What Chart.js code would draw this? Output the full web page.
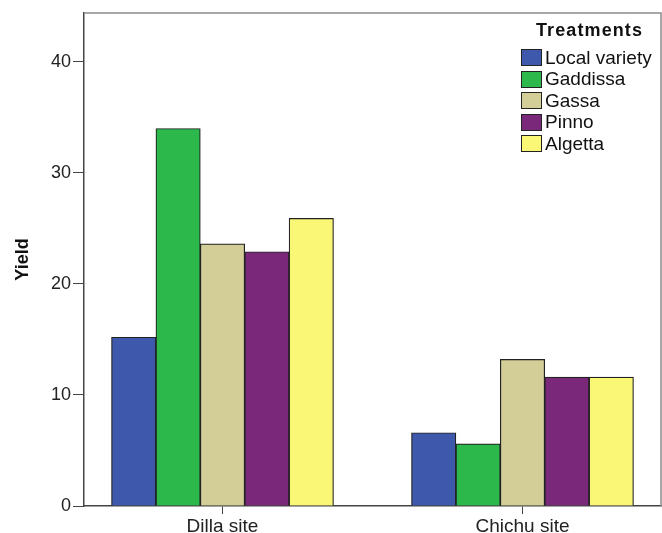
<!DOCTYPE html>
<html>
  <head>
    <meta charset="UTF-8" />
    <title>Yield by site and treatment</title>
    <style>
      body {
        margin: 0;
        background: #fff;
        font-family: "Liberation Sans", Arial, sans-serif;
      }

      #wrap {
        position: relative;
        width: 662px;
        height: 533px;
      }

      #legend {
        position: absolute;
        left: 521px;
        top: 20px;
        color: #111;
      }

      #legend .title {
        font-weight: bold;
        font-size: 18px;
        letter-spacing: 1.1px;
        margin-left: 15px;
        height: 27px;
      }

      #legend .item {
        display: flex;
        align-items: center;
        height: 21.5px;
        font-size: 19px;
      }

      #legend .box {
        width: 19px;
        height: 15px;
        border: 1px solid #222;
        margin-right: 3px;
      }
    </style>
  </head>

  <body>
    <div id="wrap">
      <canvas id="chart" width="662" height="533"></canvas>
      <div id="legend"></div>
    </div>

    <script src="https://cdn.jsdelivr.net/npm/chart.js"></script>

    <script>
      const sites = ["Dilla site", "Chichu site"];
      const treatments = ["Local variety", "Gaddissa", "Gassa", "Pinno", "Algetta"];
      const colors = ["#3E58AC", "#2DB84B", "#D3CE97", "#79287A", "#FBF776"];
      const dillaYield = [15.2, 34.0, 23.6, 22.9, 25.9];
      const chichuYield = [6.6, 5.6, 13.2, 11.6, 11.6];
      const yTicks = [0, 10, 20, 30, 40];

      const font = "'Liberation Sans', Arial, sans-serif";

      const datasets = treatments.map((name, i) => ({
        label: name,
        data: [
          { x: 0, y: dillaYield[i] },
          { x: 1, y: chichuYield[i] },
        ],
        backgroundColor: colors[i],
        borderColor: "#222",
        borderWidth: 1.2,
        borderSkipped: "bottom",
        barThickness: 44.4,
      }));

      // gray frame on top and right of plot
      const framePlugin = {
        id: "frame",
        afterDraw(chart) {
          const { ctx, chartArea: a } = chart;
          ctx.save();
          ctx.strokeStyle = "#8a8a8a";
          ctx.lineWidth = 1.5;
          ctx.beginPath();
          ctx.moveTo(a.left, a.top);
          ctx.lineTo(a.right, a.top);
          ctx.lineTo(a.right, a.bottom);
          ctx.stroke();
          ctx.restore();
        },
      };

      const ctx = document.getElementById("chart").getContext("2d");

      new Chart(ctx, {
        type: "bar",
        data: { datasets },
        plugins: [framePlugin],
        options: {
          responsive: false,
          animation: false,
          layout: { padding: { top: 13, right: 1, left: 0, bottom: 0 } },
          plugins: {
            legend: { display: false },
            tooltip: { enabled: false },
          },
          scales: {
            x: {
              type: "linear",
              offset: false,
              min: -0.4617,
              max: 1.4617,
              afterBuildTicks: (axis) => {
                axis.ticks = sites.map((s, i) => ({ value: i }));
              },
              afterFit: (axis) => {
                axis.height = 27;
              },
              ticks: {
                autoSkip: false,
                maxRotation: 0,
                padding: 1,
                color: "#222",
                font: { family: font, size: 19 },
                callback: (v) => sites[v],
              },
              grid: {
                offset: false,
                drawOnChartArea: false,
                tickLength: 8,
                color: "#444",
              },
              border: { color: "#444", width: 1.5 },
            },
            y: {
              min: 0,
              max: 44.4,
              afterBuildTicks: (axis) => {
                axis.ticks = yTicks.map((v) => ({ value: v }));
              },
              afterFit: (axis) => {
                axis.width = 84;
              },
              ticks: {
                padding: 2,
                color: "#222",
                font: { family: font, size: 18 },
              },
              grid: {
                drawOnChartArea: false,
                tickLength: 11,
                color: "#444",
              },
              border: { color: "#444", width: 1.5 },
              title: {
                display: true,
                text: "Yield",
                color: "#111",
                font: { family: font, size: 18, weight: "bold" },
                padding: { top: 12, bottom: 0 },
              },
            },
          },
        },
      });

      // legend
      const legend = document.getElementById("legend");
      let html = '<div class="title">Treatments</div>';
      treatments.forEach((name, i) => {
        html +=
          '<div class="item"><span class="box" style="background:' +
          colors[i] +
          '"></span>' +
          name +
          "</div>";
      });
      legend.innerHTML = html;
    </script>
  </body>
</html>
